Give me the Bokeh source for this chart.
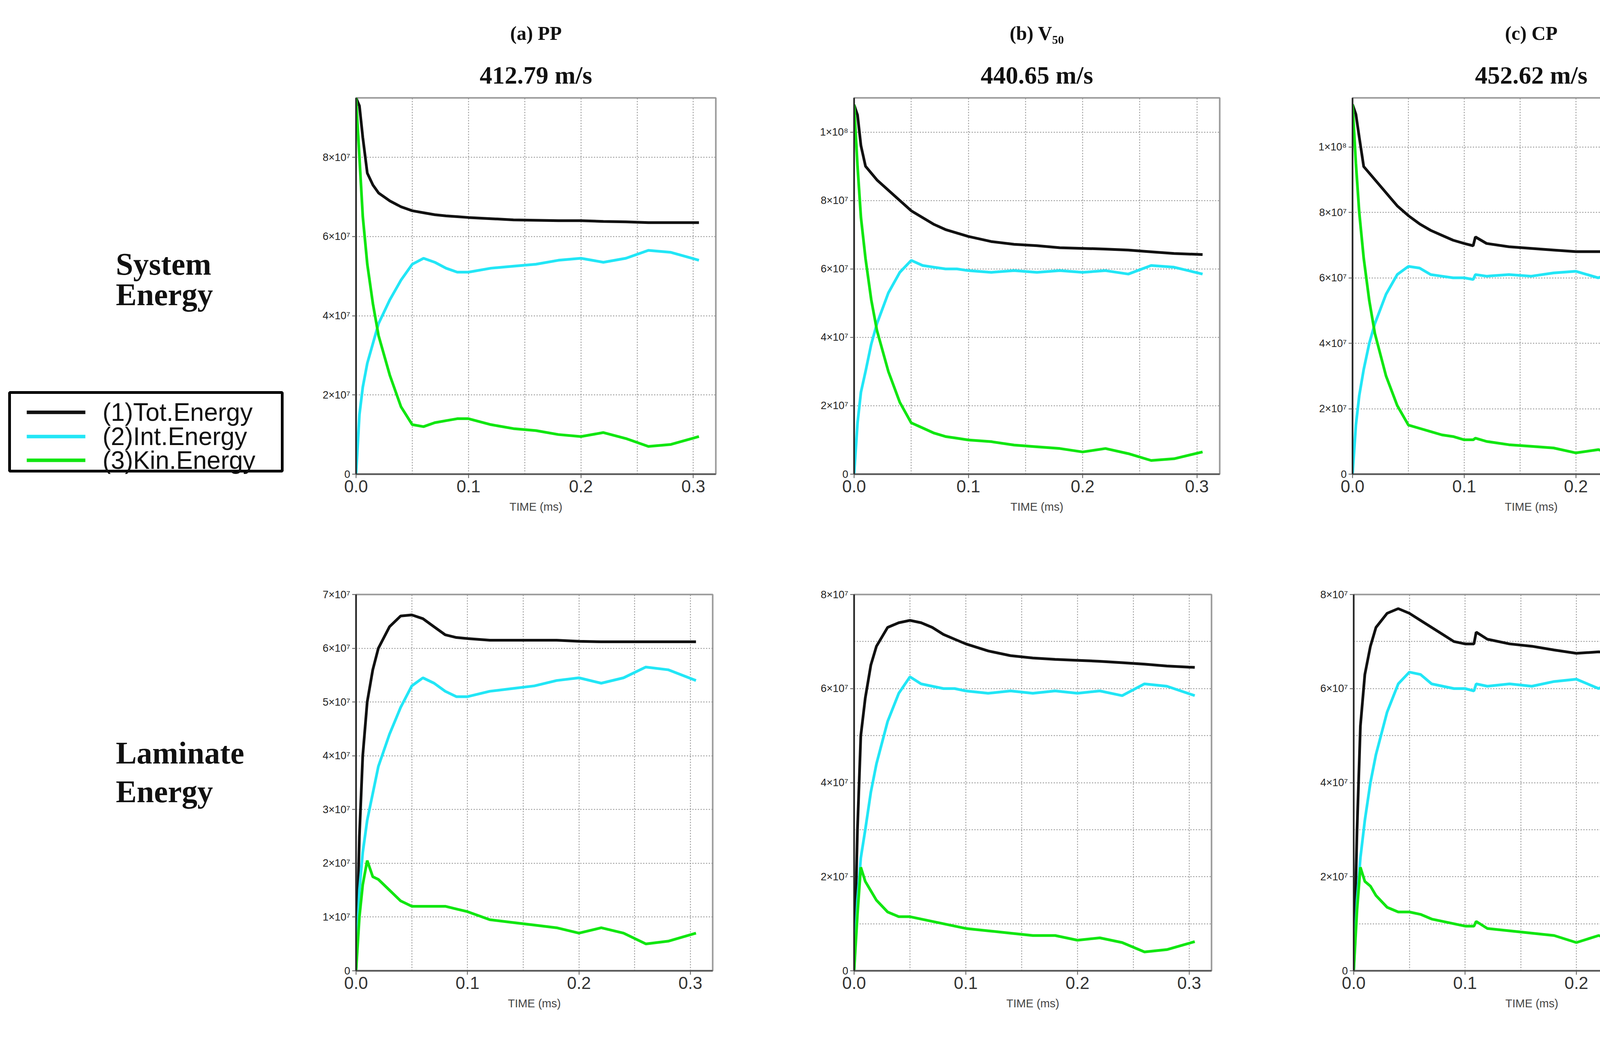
from bokeh.plotting import figure
from bokeh.layouts import column, row
from bokeh.models import (Title, FixedTicker, CustomJSTickFormatter, Range1d)
from bokeh.embed import file_html
from bokeh.resources import INLINE
from bokeh.core.properties import value

# time (ms)
T = [0, 0.003, 0.006, 0.01, 0.015, 0.02, 0.03, 0.04, 0.05, 0.06, 0.07, 0.08, 0.09, 0.1,
     0.12, 0.14, 0.16, 0.18, 0.2, 0.22, 0.24, 0.26, 0.28, 0.305]
T_C = [0, 0.003, 0.006, 0.01, 0.015, 0.02, 0.03, 0.04, 0.05, 0.06, 0.07, 0.08, 0.09, 0.1,
       0.108, 0.11, 0.12, 0.14, 0.16, 0.18, 0.2, 0.22, 0.24, 0.26, 0.28, 0.305]

# energies in units of 1e7
SYS_PP_TOT = [9.5, 9.3, 8.5, 7.6, 7.3, 7.1, 6.9, 6.75, 6.65, 6.6, 6.55, 6.52, 6.5, 6.48, 6.45, 6.42, 6.41, 6.4, 6.4, 6.38, 6.37, 6.35, 6.35, 6.35]
SYS_PP_INT = [0, 1.5, 2.2, 2.8, 3.3, 3.8, 4.4, 4.9, 5.3, 5.45, 5.35, 5.2, 5.1, 5.1, 5.2, 5.25, 5.3, 5.4, 5.45, 5.35, 5.45, 5.65, 5.6, 5.4]
SYS_PP_KIN = [9.5, 8.0, 6.5, 5.3, 4.3, 3.5, 2.5, 1.7, 1.25, 1.2, 1.3, 1.35, 1.4, 1.4, 1.25, 1.15, 1.1, 1.0, 0.95, 1.05, 0.9, 0.7, 0.75, 0.95]

SYS_V50_TOT = [10.8, 10.5, 9.6, 9.0, 8.8, 8.6, 8.3, 8.0, 7.7, 7.5, 7.3, 7.15, 7.05, 6.95, 6.8, 6.72, 6.68, 6.62, 6.6, 6.58, 6.55, 6.5, 6.45, 6.42]
SYS_V50_INT = [0, 1.5, 2.4, 3.0, 3.8, 4.4, 5.3, 5.9, 6.25, 6.1, 6.05, 6.0, 6.0, 5.95, 5.9, 5.95, 5.9, 5.95, 5.9, 5.95, 5.85, 6.1, 6.05, 5.85]
SYS_V50_KIN = [10.8, 9.0, 7.5, 6.3, 5.1, 4.2, 3.0, 2.1, 1.5, 1.35, 1.2, 1.1, 1.05, 1.0, 0.95, 0.85, 0.8, 0.75, 0.65, 0.75, 0.6, 0.4, 0.45, 0.65]

SYS_CP_TOT = [11.3, 11.0, 10.3, 9.4, 9.2, 9.0, 8.6, 8.2, 7.9, 7.65, 7.45, 7.3, 7.15, 7.05, 6.98, 7.25, 7.05, 6.95, 6.9, 6.85, 6.8, 6.8, 6.8, 6.78, 6.75, 6.75]
SYS_CP_INT = [0, 1.5, 2.4, 3.2, 4.0, 4.6, 5.5, 6.1, 6.35, 6.3, 6.1, 6.05, 6.0, 6.0, 5.95, 6.1, 6.05, 6.1, 6.05, 6.15, 6.2, 6.0, 6.25, 6.35, 6.2, 6.1]
SYS_CP_KIN = [11.3, 9.5, 8.0, 6.6, 5.3, 4.3, 3.0, 2.1, 1.5, 1.4, 1.3, 1.2, 1.15, 1.05, 1.05, 1.1, 1.0, 0.9, 0.85, 0.8, 0.65, 0.75, 0.55, 0.4, 0.5, 0.65]

LAM_PP_TOT = [0, 2.5, 4.0, 5.0, 5.6, 6.0, 6.4, 6.6, 6.62, 6.55, 6.4, 6.25, 6.2, 6.18, 6.15, 6.15, 6.15, 6.15, 6.13, 6.12, 6.12, 6.12, 6.12, 6.12]
LAM_PP_INT = SYS_PP_INT
LAM_PP_KIN = [0, 1.0, 1.6, 2.05, 1.75, 1.7, 1.5, 1.3, 1.2, 1.2, 1.2, 1.2, 1.15, 1.1, 0.95, 0.9, 0.85, 0.8, 0.7, 0.8, 0.7, 0.5, 0.55, 0.7]

LAM_V50_TOT = [0, 3.0, 5.0, 5.8, 6.5, 6.9, 7.3, 7.4, 7.45, 7.4, 7.3, 7.15, 7.05, 6.95, 6.8, 6.7, 6.65, 6.62, 6.6, 6.58, 6.55, 6.52, 6.48, 6.45]
LAM_V50_INT = SYS_V50_INT
LAM_V50_KIN = [0, 1.2, 2.2, 1.9, 1.7, 1.5, 1.25, 1.15, 1.15, 1.1, 1.05, 1.0, 0.95, 0.9, 0.85, 0.8, 0.75, 0.75, 0.65, 0.7, 0.6, 0.4, 0.45, 0.62]

LAM_CP_TOT = [0, 3.0, 5.2, 6.3, 6.9, 7.3, 7.6, 7.7, 7.6, 7.45, 7.3, 7.15, 7.0, 6.95, 6.95, 7.2, 7.05, 6.95, 6.9, 6.82, 6.75, 6.78, 6.77, 6.75, 6.73, 6.73]
LAM_CP_INT = SYS_CP_INT
LAM_CP_KIN = [0, 1.3, 2.2, 1.9, 1.8, 1.6, 1.35, 1.25, 1.25, 1.2, 1.1, 1.05, 1.0, 0.95, 0.95, 1.05, 0.9, 0.85, 0.8, 0.75, 0.6, 0.75, 0.6, 0.4, 0.45, 0.62]

COL_HEADS = ["(a) PP", "(b) V\u2085\u2080", "(c) CP"]
SPEEDS = ["412.79 m/s", "440.65 m/s", "452.62 m/s"]
ROW_HEADS = [["System", "Energy"], ["Laminate", "Energy"]]
SERIES = ["(1)Tot.Energy", "(2)Int.Energy", "(3)Kin.Energy"]
COLORS = ["#111111", "#22e6f6", "#11e611"]
X_TICKS = [0, 0.1, 0.2, 0.3]
X_GRID = [0.05, 0.1, 0.15, 0.2, 0.25, 0.3]

SERIF = "Liberation Serif"
SANS = "Liberation Sans"

yfmt = CustomJSTickFormatter(code="""
if (tick == 0) return '0';
if (tick >= 10) return (Math.round(tick/10)) + '\u00d710\u2078';
return Math.round(tick) + '\u00d710\u2077';
""")
xfmt = CustomJSTickFormatter(code="return tick.toFixed(1);")


def panel(t, series, ymax, yticks, minor, width, height, bl, bt, fw, fh, head=None, speed=None):
    p = figure(width=width, height=height, output_backend="svg", toolbar_location=None,
               x_range=Range1d(0, 0.32), y_range=Range1d(0, ymax),
               min_border_left=bl, min_border_top=bt,
               min_border_right=width - bl - fw, min_border_bottom=height - bt - fh)
    if speed is not None:
        p.title.text = head
        p.title.align = "center"
        p.title.text_font = SERIF
        p.title.text_font_size = "50px"
        p.title.text_color = "#111111"
        p.title.standoff = 40
        p.add_layout(Title(text=speed, align="center", text_font=SERIF, text_color="#111111",
                           text_font_size="64px", standoff=45), "above")
    for ys, c in zip(series, COLORS):
        p.line(t, ys, line_color=c, line_width=7)
    p.outline_line_color = "#9a9a9a"
    p.outline_line_width = 4
    p.xaxis.ticker = FixedTicker(ticks=X_TICKS)
    p.xaxis.formatter = xfmt
    p.xaxis.major_label_text_font = SANS
    p.xaxis.major_label_text_font_size = "44px"
    p.xaxis.major_label_text_color = "#333333"
    p.xaxis.axis_label = "TIME (ms)"
    p.xaxis.axis_label_text_font = SANS
    p.xaxis.axis_label_text_font_style = "normal"
    p.xaxis.axis_label_text_font_size = "29px"
    p.xaxis.axis_label_standoff = 18
    p.yaxis.ticker = FixedTicker(ticks=yticks)
    p.yaxis.formatter = yfmt
    p.yaxis.major_label_text_font = SANS
    p.yaxis.major_label_text_font_size = "27px"
    p.yaxis.major_label_text_color = "#222222"
    for ax in (p.xaxis, p.yaxis):
        ax.axis_line_width = 4
        ax.axis_line_color = "#555555"
        ax.major_tick_out = 10
        ax.major_tick_in = 0
        ax.minor_tick_out = 0
        ax.minor_tick_in = 0
        ax.major_tick_line_color = "#555555"
        ax.major_tick_line_width = 2
    p.yaxis.axis_line_color = "#222222"
    p.xgrid.ticker = FixedTicker(ticks=X_GRID)
    ygrid = [v for v in yticks if v > 0]
    if minor:
        ygrid = list(range(1, int(ymax) + 1))
    p.ygrid.ticker = FixedTicker(ticks=ygrid)
    for g in (p.xgrid, p.ygrid):
        g.grid_line_color = "#888888"
        g.grid_line_width = 2
        g.grid_line_dash = "3 4"
    return p


TOP_H = 1492
BOT_H = 1170
LEFT_W = 822


def blank(h):
    f = figure(width=LEFT_W, height=h, output_backend="svg", toolbar_location=None,
               x_range=Range1d(0, LEFT_W), y_range=Range1d(h, 0), min_border=0)
    f.axis.visible = False
    f.grid.visible = False
    f.outline_line_color = None
    return f


lt = blank(TOP_H)
lt.text(x=[296, 296], y=[660, 780], text=ROW_HEADS[0], text_font=value(SERIF),
        text_font_style="bold", text_font_size="80px", text_baseline="middle", text_color="#111111")
# legend box (drawn)
lt.quad(left=[24], right=[722], top=[1168], bottom=[1480], fill_color="white",
        line_color="black", line_width=7)
LEG_Y = [1247, 1343, 1437]
lt.segment(x0=[68] * 3, x1=[218] * 3, y0=LEG_Y, y1=LEG_Y, line_color=COLORS, line_width=9)
lt.text(x=[262] * 3, y=LEG_Y, text=SERIES, text_font=value(SANS), text_font_size="64px",
        text_baseline="middle", text_color="#111111")

lb = blank(BOT_H)
lb.text(x=[296, 296], y=[1993 - 1500, 2113 - 1500], text=ROW_HEADS[1], text_font=value(SERIF),
        text_font_style="bold", text_font_size="80px", text_baseline="middle", text_color="#111111")

ta = panel(T, [SYS_PP_TOT, SYS_PP_INT, SYS_PP_KIN], 9.5, [0, 2, 4, 6, 8], False,
           1270, TOP_H, 88, 250, 922, 963, COL_HEADS[0], SPEEDS[0])
tb = panel(T, [SYS_V50_TOT, SYS_V50_INT, SYS_V50_KIN], 11.0, [0, 2, 4, 6, 8, 10], False,
           1280, TOP_H, 94, 236, 936, 979, COL_HEADS[1], SPEEDS[1])
tc = panel(T_C, [SYS_CP_TOT, SYS_CP_INT, SYS_CP_KIN], 11.5, [0, 2, 4, 6, 8, 10], False,
           1013, TOP_H, 82, 231, 923, 984, COL_HEADS[2], SPEEDS[2])

ba = panel(T, [LAM_PP_TOT, LAM_PP_INT, LAM_PP_KIN], 7.0, [0, 1, 2, 3, 4, 5, 6, 7], False,
           1270, BOT_H, 88, 29, 914, 963)
bb = panel(T, [LAM_V50_TOT, LAM_V50_INT, LAM_V50_KIN], 8.0, [0, 2, 4, 6, 8], True,
           1280, BOT_H, 94, 29, 915, 963)
bc = panel(T_C, [LAM_CP_TOT, LAM_CP_INT, LAM_CP_KIN], 8.0, [0, 2, 4, 6, 8], True,
           1013, BOT_H, 93, 29, 912, 963)

page = column(row(lt, ta, tb, tc, spacing=0), row(lb, ba, bb, bc, spacing=0), spacing=0)
open("out.html", "w").write(file_html(page, INLINE))
